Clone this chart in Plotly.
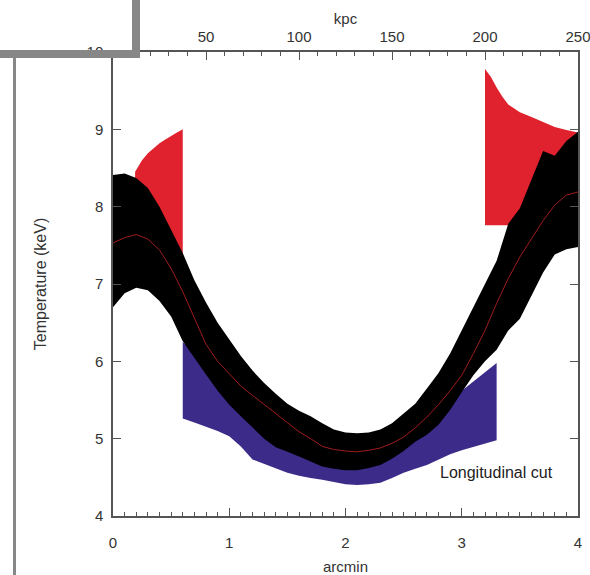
import plotly.graph_objects as go

# ---------------- data ----------------
x_arcmin = [0.0, 0.1, 0.2, 0.3, 0.4, 0.5, 0.6, 0.7, 0.8, 0.9,
            1.0, 1.1, 1.2, 1.3, 1.4, 1.5, 1.6, 1.7, 1.8, 1.9,
            2.0, 2.1, 2.2, 2.3, 2.4, 2.5, 2.6, 2.7, 2.8, 2.9,
            3.0, 3.1, 3.2, 3.3, 3.4, 3.5, 3.6, 3.7, 3.8, 3.9, 4.0]
t_center = [7.53, 7.60, 7.64, 7.58, 7.44, 7.20, 6.90, 6.55, 6.22, 6.00,
            5.84, 5.68, 5.56, 5.44, 5.32, 5.20, 5.09, 5.00, 4.90, 4.86,
            4.84, 4.83, 4.85, 4.88, 4.94, 5.02, 5.14, 5.28, 5.44, 5.62,
            5.82, 6.10, 6.40, 6.75, 7.07, 7.35, 7.58, 7.82, 8.02, 8.15, 8.19]
t_upper = [8.41, 8.43, 8.37, 8.24, 8.00, 7.70, 7.40, 7.05, 6.76, 6.50,
           6.28, 6.07, 5.88, 5.72, 5.58, 5.45, 5.36, 5.29, 5.20, 5.12,
           5.08, 5.07, 5.08, 5.12, 5.20, 5.32, 5.45, 5.65, 5.85, 6.10,
           6.40, 6.70, 7.00, 7.30, 7.78, 7.98, 8.35, 8.72, 8.66, 8.85, 8.97]
t_lower = [6.70, 6.88, 6.95, 6.92, 6.78, 6.58, 6.26, 6.05, 5.83, 5.62,
           5.44, 5.29, 5.14, 5.00, 4.89, 4.83, 4.77, 4.71, 4.64, 4.61,
           4.59, 4.59, 4.62, 4.66, 4.74, 4.84, 4.96, 5.05, 5.18, 5.37,
           5.60, 5.82, 6.00, 6.15, 6.40, 6.55, 6.85, 7.15, 7.38, 7.45, 7.48]

# purple (cold) region
x_cold = [0.6, 0.7, 0.8, 0.9, 1.0, 1.1, 1.2, 1.3, 1.4, 1.5, 1.6, 1.7, 1.8, 1.9,
          2.0, 2.1, 2.2, 2.3, 2.4, 2.5, 2.6, 2.7, 2.8, 2.9, 3.0, 3.1, 3.2, 3.3]
cold_upper = [6.25, 6.10, 5.90, 5.70, 5.52, 5.37, 5.22, 5.08, 4.97, 4.90, 4.84, 4.78, 4.71, 4.68,
              4.66, 4.66, 4.69, 4.73, 4.81, 4.91, 5.03, 5.12, 5.25, 5.42, 5.62, 5.74, 5.86, 5.98]
cold_lower = [5.26, 5.21, 5.16, 5.10, 5.03, 4.90, 4.73, 4.67, 4.62, 4.56, 4.52, 4.49, 4.47, 4.44,
              4.41, 4.40, 4.41, 4.43, 4.49, 4.56, 4.61, 4.66, 4.73, 4.80, 4.85, 4.90, 4.94, 4.98]

# red (hot) regions
x_hot_left = [0.19, 0.25, 0.30, 0.35, 0.40, 0.45, 0.50, 0.55, 0.60]
hot_left_upper = [8.45, 8.60, 8.69, 8.76, 8.82, 8.87, 8.92, 8.96, 9.00]
hot_left_lower = [8.00, 7.90, 7.80, 7.70, 7.60, 7.50, 7.45, 7.40, 7.37]

x_hot_right = [3.20, 3.25, 3.30, 3.35, 3.40, 3.50, 3.60, 3.70, 3.80, 3.90, 4.00]
hot_right_upper = [9.78, 9.68, 9.54, 9.42, 9.32, 9.22, 9.16, 9.09, 9.03, 8.99, 8.96]
hot_right_lower = [7.76, 7.76, 7.76, 7.76, 7.76, 7.90, 8.10, 8.30, 8.40, 8.50, 8.60]

kpc_ticks = [50, 100, 150, 200, 250]
arcmin_ticks = [0, 1, 2, 3, 4]
kev_ticks = [4, 5, 6, 7, 8, 9, 10]

RED = "#e0222e"
PURPLE = "#3d2b8a"
FONT = "Liberation Sans, Arial, sans-serif"
TXT = "#333333"
AX = "#555555"


def band(x, up, lo, color):
    return go.Scatter(x=list(x) + list(x)[::-1], y=list(up) + list(lo)[::-1],
                      fill="toself", fillcolor=color, mode="lines",
                      line=dict(width=0, color=color), hoverinfo="skip",
                      showlegend=False)


fig = go.Figure()
fig.add_trace(band(x_hot_left, hot_left_upper, hot_left_lower, RED))
fig.add_trace(band(x_hot_right, hot_right_upper, hot_right_lower, RED))
fig.add_trace(band(x_cold, cold_upper, cold_lower, PURPLE))
fig.add_trace(band(x_arcmin, t_upper, t_lower, "#000000"))
fig.add_trace(go.Scatter(x=x_arcmin, y=t_center, mode="lines",
                         line=dict(color="#a01c1c", width=1), showlegend=False,
                         hoverinfo="skip"))
# helper trace to activate top kpc axis
fig.add_trace(go.Scatter(x=kpc_ticks, y=[None] * len(kpc_ticks), xaxis="x2",
                         mode="markers", showlegend=False, hoverinfo="skip"))

fig.add_annotation(x=3.30, y=4.56, text="Longitudinal cut", showarrow=False,
                   font=dict(family=FONT, size=16, color="#222222"))

W, H = 590, 575
L, R, T, B = 113, 12, 52, 59


def px(xp):
    return (xp - L) / (W - L - R)


def py(yp):
    return (H - B - yp) / (H - T - B)


GREY = "#878787"
shapes = [
    dict(type="rect", xref="paper", yref="paper", x0=px(0), x1=px(140), y0=py(58), y1=py(50),
         fillcolor=GREY, line=dict(width=0), layer="above"),
    dict(type="rect", xref="paper", yref="paper", x0=px(132), x1=px(140), y0=py(58), y1=py(0),
         fillcolor=GREY, line=dict(width=0), layer="above"),
    dict(type="rect", xref="paper", yref="paper", x0=px(13), x1=px(16), y0=py(575), y1=py(58),
         fillcolor=GREY, line=dict(width=0), layer="above"),
]

fig.update_layout(
    width=W, height=H,
    margin=dict(l=L, r=R, t=T, b=B, pad=0, autoexpand=False),
    paper_bgcolor="white", plot_bgcolor="white",
    font=dict(family=FONT, size=15, color=TXT),
    showlegend=False,
    shapes=shapes,
    xaxis=dict(range=[0, 4], tickvals=arcmin_ticks, ticks="inside", ticklen=8,
               tickcolor=AX, tickwidth=1.2, showline=True, linecolor=AX, linewidth=1.5,
               showgrid=False, zeroline=False, ticklabelstandoff=12, automargin=False,
               minor=dict(dtick=0.1, tick0=0, ticks="inside", ticklen=4, tickcolor=AX,
                          tickwidth=1, showgrid=False),
               title=dict(text="arcmin", font=dict(size=15, color=TXT), standoff=13)),
    xaxis2=dict(range=[0, 250], overlaying="x", side="top", anchor="y",
                tickvals=kpc_ticks, ticks="inside", ticklen=8, tickcolor=AX, tickwidth=1.2,
                showline=True, linecolor=AX, linewidth=1.5, showgrid=False, zeroline=False,
                ticklabelstandoff=2, automargin=False, ticklabeloverflow="allow",
                minor=dict(dtick=10, tick0=0, ticks="inside", ticklen=4, tickcolor=AX,
                           tickwidth=1, showgrid=False),
                title=dict(text="kpc", font=dict(size=15, color=TXT), standoff=0)),
    yaxis=dict(range=[4, 10], tickvals=kev_ticks, ticks="inside", ticklen=8,
               tickcolor=AX, tickwidth=1.2, showline=True, linecolor=AX, linewidth=1.5,
               mirror="ticks", showgrid=False, zeroline=False, ticklabelstandoff=5,
               automargin=False,
               title=dict(text="Temperature (keV)", font=dict(size=16, color=TXT), standoff=36)),
)

fig.write_html("out.html")
